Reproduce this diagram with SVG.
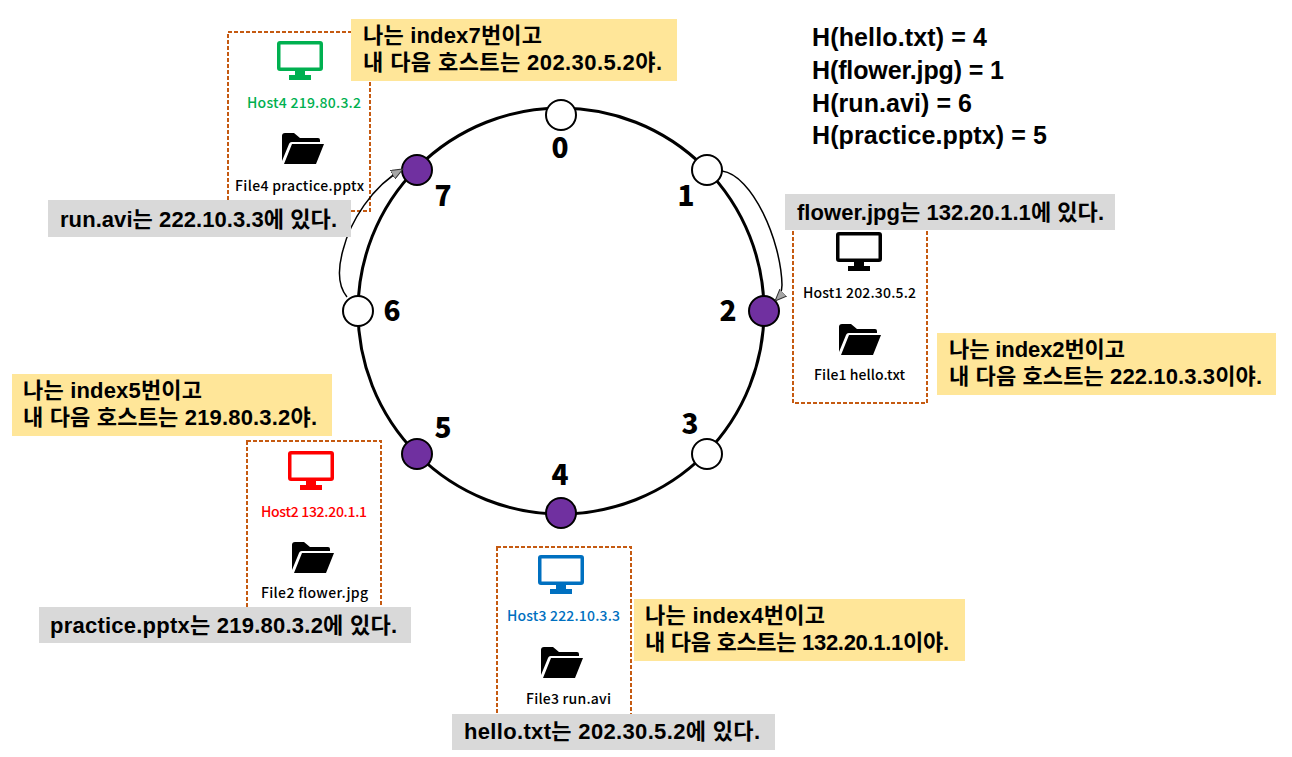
<svg xmlns="http://www.w3.org/2000/svg" width="1292" height="757" viewBox="0 0 1292 757">
<style>
text{font-family:"Liberation Sans","Noto Sans CJK KR",sans-serif;fill:#000;font-weight:700}
.say{font-size:22px}
.where{font-size:22px}
.hash{font-size:25px}
.small{font-size:14px;font-weight:500;font-family:"Noto Sans CJK KR",sans-serif}
.num{font-size:28px;font-weight:900;text-anchor:middle;font-family:"Noto Sans CJK KR",sans-serif}
.box{fill:#fff;stroke:#c55a11;stroke-width:2;stroke-dasharray:4 2}
.yellow{fill:#ffe699}
.gray{fill:#d9d9d9}
.empty{fill:#fff;stroke:#000;stroke-width:2}
.full{fill:#7030a0;stroke:#000;stroke-width:2}
.hop{fill:none;stroke:#000;stroke-width:1.5}
</style>
<defs>
<marker id="tri" viewBox="0 0 12 10" refX="12" refY="5" markerWidth="12" markerHeight="10" markerUnits="userSpaceOnUse" orient="auto"><path d="M0 0L12 5L0 10Z" fill="#a6a6a6" stroke="#333" stroke-width="1"/></marker>
<symbol id="monitor" viewBox="0 0 46 39" overflow="visible"><path fill="currentColor" fill-rule="evenodd" d="M3 0H43a3 3 0 0 1 3 3V27a3 3 0 0 1-3 3H28V34H34V39H12V34H18V30H3a3 3 0 0 1-3-3V3a3 3 0 0 1 3-3ZM3.500 3.500V26.500H42.500V3.500Z"/></symbol>
<symbol id="folder" viewBox="0 0 42 31" overflow="visible"><path fill="#000" d="M0 28V3a3 3 0 0 1 3-3H12L18 5H36a2 2 0 0 1 2 2V9H10a3 3 0 0 0-3 2L0 28ZM10 11H42L34 31H2Z"/></symbol>
</defs>
<g id="ring"><circle cx="561" cy="311" r="203" fill="none" stroke="#000" stroke-width="3"/></g>
<g id="node-0"><circle class="empty" cx="561" cy="115" r="15"/><text class="num" x="560" y="158">0</text></g>
<g id="node-1"><circle class="empty" cx="707" cy="170" r="15"/><text class="num" x="686" y="206">1</text></g>
<g id="node-2"><circle class="full" cx="764" cy="311" r="15"/><text class="num" x="728" y="321">2</text></g>
<g id="node-3"><circle class="empty" cx="707" cy="454" r="15"/><text class="num" x="690" y="434">3</text></g>
<g id="node-4"><circle class="full" cx="561" cy="513" r="15"/><text class="num" x="560" y="485">4</text></g>
<g id="node-5"><circle class="full" cx="417" cy="454" r="15"/><text class="num" x="443" y="438">5</text></g>
<g id="node-6"><circle class="empty" cx="358" cy="311" r="15"/><text class="num" x="392" y="321">6</text></g>
<g id="node-7"><circle class="full" cx="417" cy="170" r="15"/><text class="num" x="443" y="206">7</text></g>
<g id="host4"><rect class="box" x="228" y="32" width="142" height="179"/>
<use href="#monitor" x="277" y="41" width="46" height="39" style="color:#00b050"/>
<text class="small" x="247" y="108" textLength="114" style="fill:#00b050">Host4 219.80.3.2</text>
<use href="#folder" x="282" y="133" width="42" height="31"/>
<text class="small" x="235" y="191" textLength="129">File4 practice.pptx</text></g>
<g id="host1"><rect class="box" x="793" y="215" width="134" height="188"/>
<use href="#monitor" x="836" y="232" width="46" height="39" style="color:#000"/>
<text class="small" x="803" y="298" textLength="113">Host1 202.30.5.2</text>
<use href="#folder" x="839" y="324" width="42" height="31"/>
<text class="small" x="814" y="380" textLength="91">File1 hello.txt</text></g>
<g id="host2"><rect class="box" x="247" y="441" width="134" height="180"/>
<use href="#monitor" x="288" y="451" width="46" height="39" style="color:#f00"/>
<text class="small" x="261" y="517" textLength="106" style="fill:#f00">Host2 132.20.1.1</text>
<use href="#folder" x="292" y="542" width="42" height="31"/>
<text class="small" x="261" y="598" textLength="107">File2 flower.jpg</text></g>
<g id="host3"><rect class="box" x="497" y="547" width="134" height="180"/>
<use href="#monitor" x="538" y="555" width="46" height="39" style="color:#0070c0"/>
<text class="small" x="507" y="621" textLength="113" style="fill:#0070c0">Host3 222.10.3.3</text>
<use href="#folder" x="541" y="647" width="42" height="31"/>
<text class="small" x="526" y="704" textLength="85">File3 run.avi</text></g>
<g id="connectors">
<path class="hop" d="M722 171C752 175 781 240 782 285C782 292 779 297 775 301" marker-end="url(#tri)"/>
<path class="hop" d="M347 297C337 285 338 268 343 250C350 222 372 186 403 169" marker-end="url(#tri)"/>
</g>
<g id="note-7"><rect class="yellow" x="351" y="19" width="326" height="62"/><text class="say"><tspan x="363" y="43" textLength="179">나는 index7번이고</tspan><tspan x="363" y="70" textLength="299">내 다음 호스트는 202.30.5.2야.</tspan></text></g>
<g id="note-2"><rect class="yellow" x="937" y="333" width="339" height="62"/><text class="say"><tspan x="949" y="357" textLength="176">나는 index2번이고</tspan><tspan x="949" y="384" textLength="313">내 다음 호스트는 222.10.3.3이야.</tspan></text></g>
<g id="note-5"><rect class="yellow" x="12" y="374" width="320" height="62"/><text class="say"><tspan x="23" y="398" textLength="179">나는 index5번이고</tspan><tspan x="23" y="425" textLength="294">내 다음 호스트는 219.80.3.2야.</tspan></text></g>
<g id="note-4"><rect class="yellow" x="634" y="599" width="331" height="62"/><text class="say"><tspan x="645" y="623" textLength="180">나는 index4번이고</tspan><tspan x="645" y="650" textLength="304">내 다음 호스트는 132.20.1.1이야.</tspan></text></g>
<g id="where-run"><rect class="gray" x="48" y="200" width="303" height="37"/><text class="where" x="60" y="227" textLength="277">run.avi는 222.10.3.3에 있다.</text></g>
<g id="where-flower"><rect class="gray" x="785" y="194" width="330" height="36"/><text class="where" x="797" y="220" textLength="307">flower.jpg는 132.20.1.1에 있다.</text></g>
<g id="where-practice"><rect class="gray" x="39" y="607" width="372" height="36"/><text class="where" x="50" y="633" textLength="347">practice.pptx는 219.80.3.2에 있다.</text></g>
<g id="where-hello"><rect class="gray" x="452" y="714" width="323" height="36"/><text class="where" x="464" y="739" textLength="296">hello.txt는 202.30.5.2에 있다.</text></g>
<g id="hashes"><text class="hash" x="812" y="46" textLength="175">H(hello.txt) = 4</text><text class="hash" x="812" y="79" textLength="192">H(flower.jpg) = 1</text><text class="hash" x="812" y="112" textLength="160">H(run.avi) = 6</text><text class="hash" x="812" y="144" textLength="235">H(practice.pptx) = 5</text></g>
</svg>
